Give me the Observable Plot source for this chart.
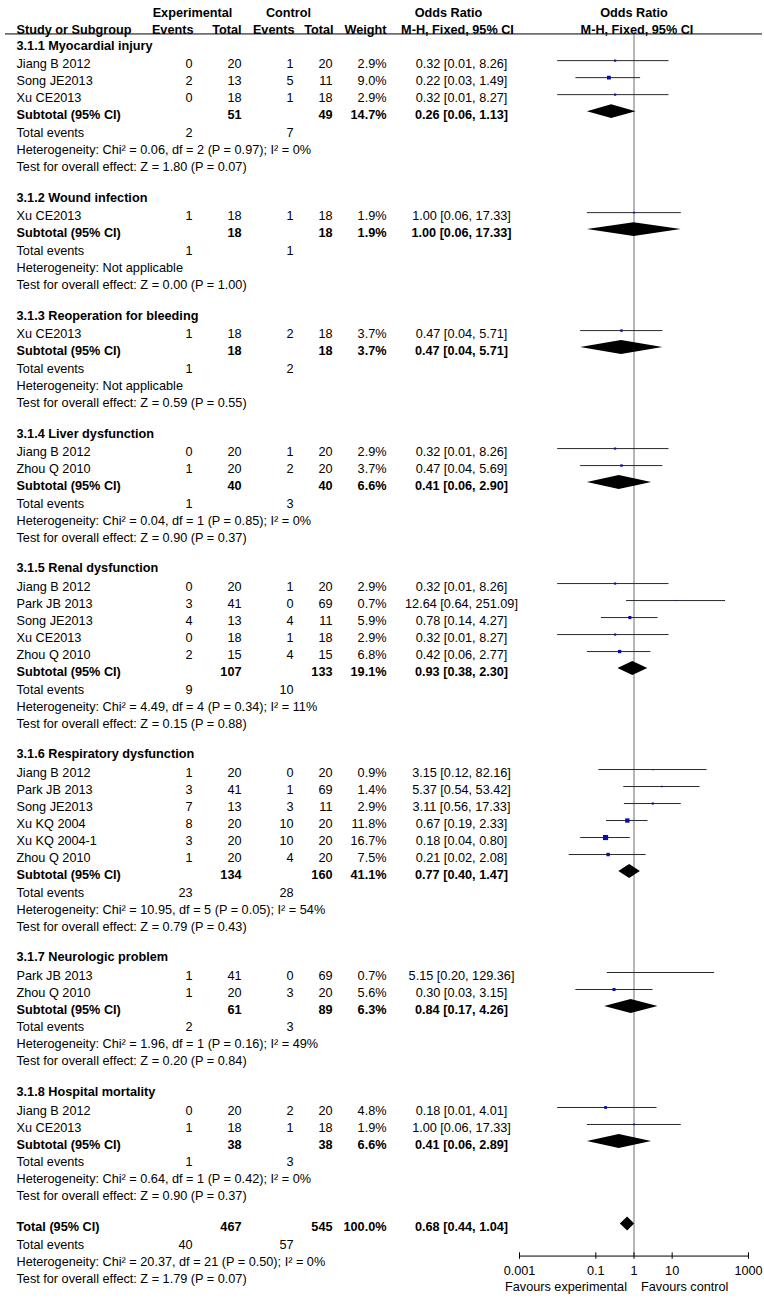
<!DOCTYPE html>
<html><head><meta charset="utf-8">
<script src="https://cdn.jsdelivr.net/npm/d3@7"></script>
<script src="https://cdn.jsdelivr.net/npm/@observablehq/plot@0.6"></script>
<style>
html,body{margin:0;padding:0;background:#fff;}
#chart svg{display:block;}
</style></head><body><div id="chart"></div>
<script>
// ---------------- DATA ----------------
const groupNames = ["3.1.1 Myocardial injury","3.1.2 Wound infection","3.1.3 Reoperation for bleeding","3.1.4 Liver dysfunction","3.1.5 Renal dysfunction","3.1.6 Respiratory dysfunction","3.1.7 Neurologic problem","3.1.8 Hospital mortality"];
const studyGroup = [0,0,0, 1, 2, 3,3, 4,4,4,4,4, 5,5,5,5,5,5, 6,6, 7,7];
const studyNames = ["Jiang B 2012","Song JE2013","Xu CE2013", "Xu CE2013", "Xu CE2013", "Jiang B 2012","Zhou Q 2010", "Jiang B 2012","Park JB 2013","Song JE2013","Xu CE2013","Zhou Q 2010", "Jiang B 2012","Park JB 2013","Song JE2013","Xu KQ 2004","Xu KQ 2004-1","Zhou Q 2010", "Park JB 2013","Zhou Q 2010", "Jiang B 2012","Xu CE2013"];
const expEvents = [0,2,0, 1, 1, 0,1, 0,3,4,0,2, 1,3,7,8,3,1, 1,1, 0,1];
const expTotal  = [20,13,18, 18, 18, 20,20, 20,41,13,18,15, 20,41,13,20,20,20, 41,20, 20,18];
const ctlEvents = [1,5,1, 1, 2, 1,2, 1,0,4,1,4, 0,1,3,10,10,4, 0,3, 2,1];
const ctlTotal  = [20,11,18, 18, 18, 20,20, 20,69,11,18,15, 20,69,11,20,20,20, 69,20, 20,18];
const weight    = [2.9,9.0,2.9, 1.9, 3.7, 2.9,3.7, 2.9,0.7,5.9,2.9,6.8, 0.9,1.4,2.9,11.8,16.7,7.5, 0.7,5.6, 4.8,1.9];
const orEst  = [0.32,0.22,0.32, 1.00, 0.47, 0.32,0.47, 0.32,12.64,0.78,0.32,0.42, 3.15,5.37,3.11,0.67,0.18,0.21, 5.15,0.30, 0.18,1.00];
const orLow  = [0.01,0.03,0.01, 0.06, 0.04, 0.01,0.04, 0.01,0.64,0.14,0.01,0.06, 0.12,0.54,0.56,0.19,0.04,0.02, 0.20,0.03, 0.01,0.06];
const orHigh = [8.26,1.49,8.27, 17.33, 5.71, 8.26,5.69, 8.26,251.09,4.27,8.27,2.77, 82.16,53.42,17.33,2.33,0.80,2.08, 129.36,3.15, 4.01,17.33];

const subExpEvents = [2,1,1,1,9,23,2,1];
const subExpTotal  = [51,18,18,40,107,134,61,38];
const subCtlEvents = [7,1,2,3,10,28,3,3];
const subCtlTotal  = [49,18,18,40,133,160,89,38];
const subWeight    = [14.7,1.9,3.7,6.6,19.1,41.1,6.3,6.6];
const subOr   = [0.26,1.00,0.47,0.41,0.93,0.77,0.84,0.41];
const subLow  = [0.06,0.06,0.04,0.06,0.38,0.40,0.17,0.06];
const subHigh = [1.13,17.33,5.71,2.90,2.30,1.47,4.26,2.89];
const subHet = [
  "Heterogeneity: Chi² = 0.06, df = 2 (P = 0.97); I² = 0%",
  "Heterogeneity: Not applicable",
  "Heterogeneity: Not applicable",
  "Heterogeneity: Chi² = 0.04, df = 1 (P = 0.85); I² = 0%",
  "Heterogeneity: Chi² = 4.49, df = 4 (P = 0.34); I² = 11%",
  "Heterogeneity: Chi² = 10.95, df = 5 (P = 0.05); I² = 54%",
  "Heterogeneity: Chi² = 1.96, df = 1 (P = 0.16); I² = 49%",
  "Heterogeneity: Chi² = 0.64, df = 1 (P = 0.42); I² = 0%"];
const subTest = [
  "Test for overall effect: Z = 1.80 (P = 0.07)",
  "Test for overall effect: Z = 0.00 (P = 1.00)",
  "Test for overall effect: Z = 0.59 (P = 0.55)",
  "Test for overall effect: Z = 0.90 (P = 0.37)",
  "Test for overall effect: Z = 0.15 (P = 0.88)",
  "Test for overall effect: Z = 0.79 (P = 0.43)",
  "Test for overall effect: Z = 0.20 (P = 0.84)",
  "Test for overall effect: Z = 0.90 (P = 0.37)"];

const totalExpEvents = 40, totalExpTotal = 467, totalCtlEvents = 57, totalCtlTotal = 545;
const totalWeight = 100.0, totalOr = 0.68, totalLow = 0.44, totalHigh = 1.04;
const totalHet = "Heterogeneity: Chi² = 20.37, df = 21 (P = 0.50); I² = 0%";
const totalTest = "Test for overall effect: Z = 1.79 (P = 0.07)";

const axisTicks = [0.001, 0.1, 1, 10, 1000];
const favourLabels = ["Favours experimental", "Favours control"];

// ---------------- LAYOUT (row units) ----------------
const W = 764, H = 1299, ML = 5, MR = 2, FS = 12.7;
const fmtOr = (e, l, h) => `${e.toFixed(2)} [${l.toFixed(2)}, ${h.toFixed(2)}]`;
const fmtW = w => w.toFixed(1) + "%";

const rows = [];      // table text rows
const studies = [];   // forest studies
const diamonds = [];  // pooled estimates
let pos = 0;
groupNames.forEach((g, gi) => {
  rows.push({y: pos, study: g, bold: true});
  pos += 1.09;
  studyGroup.forEach((sg, i) => {
    if (sg !== gi) return;
    rows.push({y: pos, study: studyNames[i], ee: expEvents[i], et: expTotal[i], ce: ctlEvents[i], ct: ctlTotal[i],
      w: fmtW(weight[i]), or: fmtOr(orEst[i], orLow[i], orHigh[i]), bold: false});
    studies.push({y: pos, est: orEst[i], lo: orLow[i], hi: orHigh[i], w: weight[i]});
    pos += 1;
  });
  rows.push({y: pos, study: "Subtotal (95% CI)", et: subExpTotal[gi], ct: subCtlTotal[gi], w: fmtW(subWeight[gi]),
    or: fmtOr(subOr[gi], subLow[gi], subHigh[gi]), bold: true});
  diamonds.push({id: gi, y: pos, est: subOr[gi], lo: subLow[gi], hi: subHigh[gi]});
  pos += 1.03;
  rows.push({y: pos, study: "Total events", ee: subExpEvents[gi], ce: subCtlEvents[gi], bold: false});
  pos += 1;
  rows.push({y: pos, study: subHet[gi], bold: false});
  pos += 1;
  rows.push({y: pos, study: subTest[gi], bold: false});
  pos += 1.82;
});
rows.push({y: pos, study: "Total (95% CI)", et: totalExpTotal, ct: totalCtlTotal, w: fmtW(totalWeight),
  or: fmtOr(totalOr, totalLow, totalHigh), bold: true});
diamonds.push({id: 99, y: pos, est: totalOr, lo: totalLow, hi: totalHigh});
pos += 1.03;
rows.push({y: pos, study: "Total events", ee: totalExpEvents, ce: totalCtlEvents, bold: false});
pos += 1;
rows.push({y: pos, study: totalHet, bold: false});
pos += 1;
rows.push({y: pos, study: totalTest, bold: false});

const headRow1 = -1.91, headRow2 = -0.91, headLine = -0.68;
const axisRow = 71.21, tickLabelRow = 72.06, favourRow = 73.0;
const fOff = -0.2;   // forest marks sit a little above text centre
const dH = 0.41;     // diamond half height

const diamondPts = diamonds.flatMap(d => [
  {id: d.id, x: d.lo, y1: d.y + fOff, y2: d.y + fOff},
  {id: d.id, x: d.est, y1: d.y + fOff - dH, y2: d.y + fOff + dH},
  {id: d.id, x: d.hi, y1: d.y + fOff, y2: d.y + fOff}
]);

// columns: key, pixel position, anchor
const cols = [
  {key: "study", px: 16, anchor: "start"},
  {key: "ee", px: 192, anchor: "end"},
  {key: "et", px: 241, anchor: "end"},
  {key: "ce", px: 293, anchor: "end"},
  {key: "ct", px: 332, anchor: "end"},
  {key: "w",  px: 386, anchor: "end"},
  {key: "or", px: 461, anchor: "middle"}
];
const textMarks = [];
cols.forEach(c => {
  [true, false].forEach(b => {
    textMarks.push(Plot.text(rows.filter(r => r.bold === b && r[c.key] != null), {
      frameAnchor: "left", dx: c.px - ML, y: "y", text: d => String(d[c.key]),
      textAnchor: c.anchor, fontWeight: b ? "bold" : "normal", fontSize: FS, fill: "#000"
    }));
  });
});

const headers1 = [
  {t: "Experimental", px: 192, a: "middle"},
  {t: "Control", px: 288, a: "middle"},
  {t: "Odds Ratio", px: 448, a: "middle"}
];
const headers2 = [
  {t: "Study or Subgroup", px: 16, a: "start"},
  {t: "Events", px: 193, a: "end"},
  {t: "Total", px: 241, a: "end"},
  {t: "Events", px: 294, a: "end"},
  {t: "Total", px: 333, a: "end"},
  {t: "Weight", px: 386, a: "end"},
  {t: "M-H, Fixed, 95% CI", px: 457, a: "middle"}
];
const headerMarks = [];
[[headers1, headRow1], [headers2, headRow2]].forEach(([hs, yr]) => {
  hs.forEach(h => headerMarks.push(Plot.text([h], {frameAnchor: "left", dx: h.px - ML, y: () => yr, text: d => d.t,
    textAnchor: h.a, fontWeight: "bold", fontSize: FS, fill: "#000"})));
});

const chart = Plot.plot({
  width: W, height: H,
  marginLeft: ML, marginRight: MR, marginTop: 0, marginBottom: 0,
  style: {fontFamily: "'Liberation Sans', Arial, sans-serif", fontSize: FS + "px", background: "#fff"},
  x: {type: "log", domain: [0.001, 1000], range: [519, 748], axis: null},
  y: {type: "linear", domain: [0, 73], range: [45, 45 + 73 * 17], axis: null},
  r: {type: "sqrt", domain: [0, 16.7], range: [0, 2.9]},
  marks: [
    Plot.ruleY([headLine], {stroke: "#000", strokeWidth: 1}),
    Plot.ruleX([1], {y1: headLine, y2: axisRow, stroke: "#6e6e6e", strokeWidth: 1}),
    Plot.ruleY(studies, {y: d => d.y + fOff, x1: "lo", x2: "hi", stroke: "#2a2a2a", strokeWidth: 1}),
    Plot.dot(studies, {x: "est", y: d => d.y + fOff, r: "w", symbol: "square", fill: "#0a0ab0", stroke: null}),
    Plot.areaY(diamondPts, {x: "x", y1: "y1", y2: "y2", z: "id", fill: "#000", curve: "linear"}),
    Plot.ruleY([axisRow], {x1: () => axisTicks[0], x2: () => axisTicks[axisTicks.length - 1], stroke: "#000"}),
    Plot.ruleX(axisTicks, {x: d => d, y1: axisRow - 0.19, y2: axisRow + 0.19, stroke: "#000"}),
    Plot.text(axisTicks, {x: d => d, y: () => tickLabelRow, text: d => String(d), fontSize: FS, fill: "#000"}),
    Plot.text([favourLabels[0]], {x: () => 1, y: () => favourRow, text: d => d, textAnchor: "end", dx: -7, fontSize: FS, fill: "#000"}),
    Plot.text([favourLabels[1]], {x: () => 1, y: () => favourRow, text: d => d, textAnchor: "start", dx: 7, fontSize: FS, fill: "#000"}),
    Plot.text(["Odds Ratio"], {x: () => 1, y: () => headRow1, text: d => d, fontWeight: "bold", fontSize: FS, fill: "#000"}),
    Plot.text(["M-H, Fixed, 95% CI"], {x: () => 1, y: () => headRow2, text: d => d, dx: 3, fontWeight: "bold", fontSize: FS, fill: "#000"}),
    ...headerMarks,
    ...textMarks
  ]
});
document.getElementById("chart").appendChild(chart);
</script>
</body></html>
